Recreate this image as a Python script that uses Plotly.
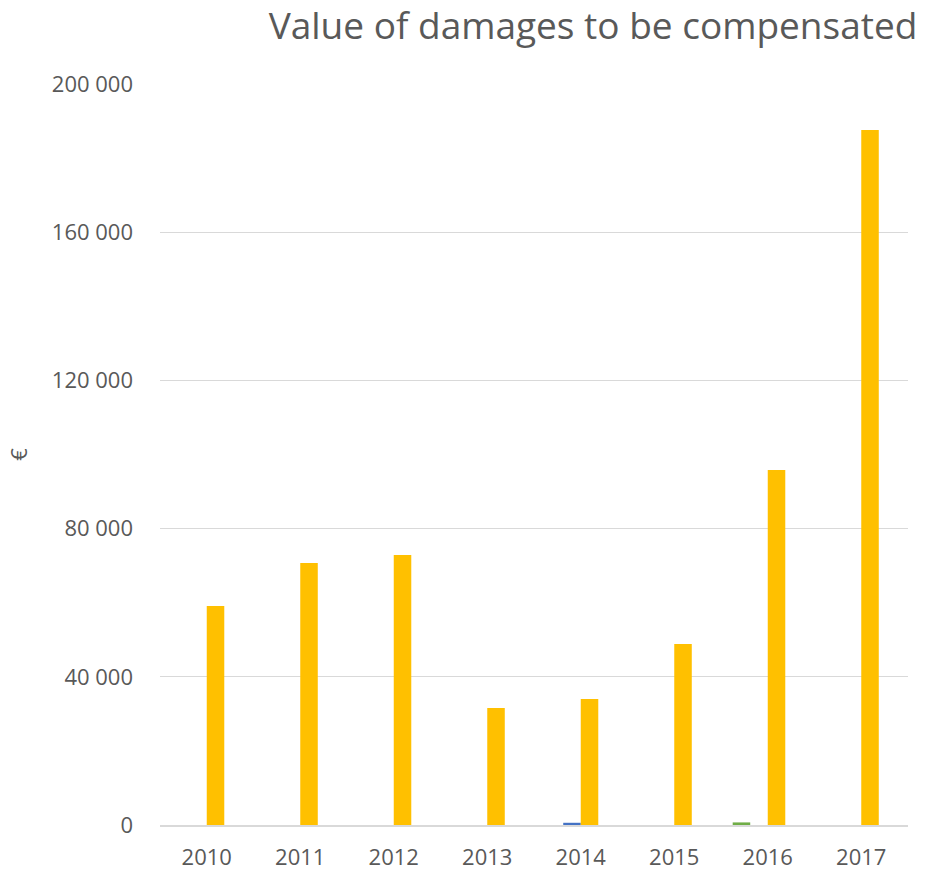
import plotly.graph_objects as go

years = ["2010", "2011", "2012", "2013", "2014", "2015", "2016", "2017"]
series_green = [0, 0, 0, 0, 0, 0, 700, 0]
series_blue = [0, 0, 0, 0, 600, 0, 0, 0]
series_yellow = [59100, 70700, 72900, 31600, 34000, 48850, 95800, 187600]
series_gray = [0, 0, 0, 0, 0, 0, 0, 0]

tick_vals = [0, 40000, 80000, 120000, 160000, 200000]
tick_text = ["0", "40 000", "80 000", "120 000", "160 000", "200 000"]

font_family = "'Open Sans', sans-serif"
text_color = "#595959"

fig = go.Figure()
for name, vals, color in [
    ("A", series_green, "#70AD47"),
    ("B", series_blue, "#4472C4"),
    ("C", series_yellow, "#FFC000"),
    ("D", series_gray, "#A5A5A5"),
]:
    fig.add_trace(go.Bar(x=years, y=vals, name=name, marker=dict(color=color, line=dict(width=0))))

fig.update_layout(
    width=926, height=871,
    barmode="group", bargap=0.25, bargroupgap=0,
    showlegend=False,
    paper_bgcolor="white", plot_bgcolor="white",
    margin=dict(l=160, r=18, t=84, b=46, autoexpand=False),
    font=dict(family=font_family, color=text_color),
    title=dict(text="Value of damages to be compensated", x=593 / 926, xanchor="center",
               y=1 - 26 / 871, yanchor="middle",
               font=dict(size=37, color=text_color, family=font_family)),
)
fig.update_yaxes(range=[0, 200000], tickvals=tick_vals, ticktext=tick_text,
                 showgrid=True, gridcolor="#D9D9D9", gridwidth=1,
                 zeroline=False, showline=False, ticks="", automargin=False,
                 tickfont=dict(size=22, color=text_color), ticklabelstandoff=26,
                 title=dict(text="€", font=dict(size=22, color=text_color), standoff=18))
fig.update_xaxes(showline=True, linecolor="#D9D9D9", linewidth=2, ticks="", automargin=False,
                 tickfont=dict(size=22, color=text_color), ticklabelstandoff=12)

fig.write_html("out.html", config={"displayModeBar": False},
               post_script="document.body.style.margin='0';")
